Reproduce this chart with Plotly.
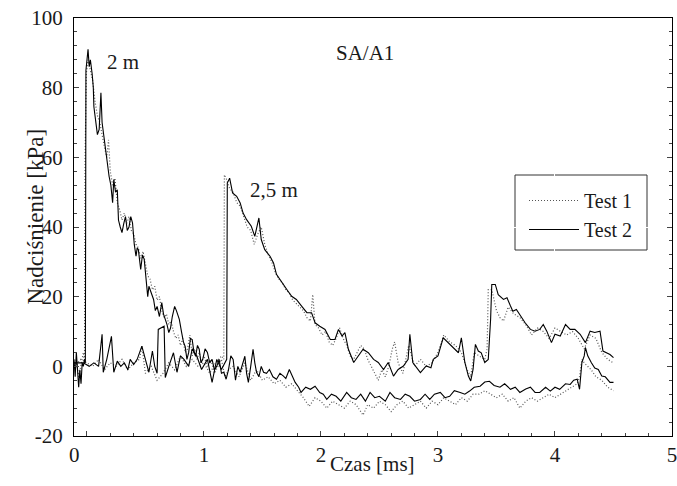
import plotly.graph_objects as go

# ---------------- data ----------------
# 2 m gauge, Test 2 (solid)
t_2m_test2 = [-0.11, -0.10, -0.09, -0.08, -0.07, -0.06, -0.05, -0.04, -0.03, -0.02, -0.013,
              -0.008, 0.0, 0.01, 0.02, 0.03, 0.045, 0.055, 0.06, 0.075, 0.09, 0.105, 0.12, 0.13,
              0.145, 0.16, 0.17, 0.19, 0.205, 0.22, 0.23, 0.245, 0.26, 0.27, 0.285, 0.30, 0.315,
              0.33, 0.345, 0.36, 0.375, 0.39, 0.405, 0.42, 0.43, 0.44, 0.46, 0.475, 0.49, 0.505,
              0.52, 0.53, 0.54, 0.555, 0.57, 0.585, 0.60, 0.62, 0.64, 0.655, 0.67, 0.685, 0.70,
              0.715, 0.73, 0.75, 0.765, 0.79, 0.81, 0.825, 0.84, 0.855, 0.87, 0.885, 0.90, 0.915,
              0.93, 0.945, 0.96, 0.975, 0.99, 1.01, 1.03, 1.05, 1.07, 1.09, 1.11, 1.13, 1.15, 1.17,
              1.19, 1.21, 1.23, 1.25, 1.27, 1.29, 1.31, 1.33, 1.35, 1.365, 1.38, 1.40, 1.42, 1.435,
              1.45, 1.47, 1.49, 1.51, 1.535, 1.56, 1.59, 1.62, 1.65, 1.68, 1.70, 1.73, 1.755, 1.78,
              1.81, 1.83, 1.87, 1.91, 1.95, 1.99, 2.02, 2.05, 2.09, 2.13, 2.17, 2.22, 2.26, 2.30,
              2.34, 2.38, 2.42, 2.46, 2.50, 2.55, 2.59, 2.63, 2.68, 2.72, 2.76, 2.80, 2.85, 2.89,
              2.93, 2.97, 3.02, 3.06, 3.10, 3.14, 3.19, 3.23, 3.27, 3.31, 3.36, 3.40, 3.44, 3.48,
              3.53, 3.57, 3.62, 3.66, 3.70, 3.75, 3.79, 3.83, 3.87, 3.92, 3.96, 4.00, 4.04, 4.09,
              4.13, 4.16, 4.19, 4.21, 4.23, 4.25, 4.26, 4.28, 4.31, 4.34, 4.37, 4.40, 4.43, 4.47, 4.50]
p_2m_test2 = [2, -3, 4, -2, -6, -1, -5, 1, 0, 2, 1,
              85, 88, 91, 86, 88, 84, 80, 74.5, 70, 66.5, 68, 78.5, 70,
              66, 62, 58.5, 54.5, 52, 47, 53.6, 50, 50.7, 42, 40, 38.4, 41,
              43, 39, 40, 43, 41.2, 35, 31.6, 34, 33.5, 27.8, 32, 30.7, 25,
              20, 23, 22, 21, 19.2, 16, 17.2, 14.3, 18.3, 15, 13.5, 12, 9.7,
              11, 14.3, 17.2, 16, 13.5, 9.7, 7, 5.7, 2, 4, 8, 7.7, 4,
              2.9, 6, 4.9, 1, 2, 5, 4, 1, 2, -1, 0, 2, -2, -1.7,
              -3.7, -1, 3, 2, -4, 0, -1.7, 1, 2.9, -2, -4.6, 0, 4.9, 1,
              -1.7, -3, 0, -1.7, -2, -0.9, -3, -3.7, -2, -2.8, -3.5, -0.9, -3, -4.6,
              -6, -7.5, -6, -6.6, -5.7, -7.5, -8, -9.5, -8, -8.6, -10, -7.5, -9, -9.5,
              -8, -10, -7.5, -9, -8.6, -10, -7.5, -9, -9.5, -8, -8.6, -10, -9.5, -8,
              -9.5, -8, -7.5, -9, -8.6, -7, -7.5, -8, -7.1, -6, -5.7, -4.5, -4.3, -5.5,
              -6, -5, -6.6, -6, -7.5, -6.5, -6, -7.5, -7.5, -6, -7.1, -6, -6.6, -5,
              -5.2, -4, -3.7, -6.6, 1.1, 3, 5.4, 3, 1.1, -0.5, -0.9, -2.8, -3, -4.6, -4.6]

# 2 m gauge, Test 1 (dotted)
t_2m_test1 = [-0.11, -0.09, -0.07, -0.05, -0.03, -0.02, -0.015, -0.005, 0.01, 0.03, 0.05, 0.07,
              0.09, 0.11, 0.13, 0.15, 0.17, 0.185, 0.20, 0.22, 0.24, 0.26, 0.28, 0.30, 0.32, 0.34,
              0.36, 0.38, 0.40, 0.42, 0.44, 0.46, 0.48, 0.50, 0.52, 0.54, 0.56, 0.58, 0.60, 0.62,
              0.64, 0.66, 0.68, 0.70, 0.72, 0.74, 0.76, 0.78, 0.80, 0.82, 0.84, 0.86, 0.88, 0.90,
              0.92, 0.94, 0.96, 0.98, 1.00, 1.03, 1.06, 1.09, 1.12, 1.15, 1.18, 1.21, 1.25, 1.30,
              1.35, 1.40, 1.45, 1.50, 1.55, 1.60, 1.65, 1.70, 1.75, 1.80, 1.85, 1.90, 1.95, 2.00,
              2.05, 2.10, 2.15, 2.20, 2.25, 2.30, 2.36, 2.40, 2.45, 2.50, 2.55, 2.60, 2.65, 2.70,
              2.75, 2.80, 2.85, 2.90, 2.95, 3.00, 3.05, 3.10, 3.15, 3.20, 3.25, 3.30, 3.35, 3.40,
              3.45, 3.50, 3.55, 3.60, 3.65, 3.70, 3.75, 3.80, 3.85, 3.90, 3.95, 4.00, 4.05, 4.10,
              4.15, 4.19, 4.21, 4.23, 4.25, 4.28, 4.31, 4.35, 4.40, 4.45, 4.50]
p_2m_test1 = [0, 2, -3, 1, 4, 1, 60, 84, 88, 85, 82, 76,
              72, 70, 66, 63, 60, 65, 56, 52, 54, 47, 45, 42, 44, 41,
              43, 39, 38, 35, 34, 31, 33, 29, 26, 25, 22, 23, 19, 20,
              16, 14, 15, 12, 13, 10, 8, 9, 6, 8, 4, 5, 9, 3,
              5, 2, 4, 1, 3, 0, 2, -2, 0, 2, -3, -1, 0, -3,
              1, -4, -1, -4, -3, -5, -4, -6, -5, -7, -9, -11.5, -9, -10,
              -12, -10, -11, -12, -10, -11, -14, -11, -12, -10, -11, -13, -11, -10,
              -12, -11, -10, -12, -10, -11, -9, -10, -11, -9, -10, -8, -8, -7,
              -8, -9, -8, -10, -9, -12, -10, -9, -10, -9, -8, -9, -8, -7,
              -6, -5, -3, 2, 1, 0, -1, -3, -4, -6, -7]

# 2,5 m gauge, Test 2 (solid)
t_25m_test2 = [-0.11, -0.06, -0.03, 0.02, 0.06, 0.10, 0.13, 0.14, 0.17, 0.21, 0.23, 0.26, 0.29,
               0.32, 0.35, 0.37, 0.40, 0.43, 0.47, 0.50, 0.53, 0.56, 0.58, 0.60, 0.61, 0.66, 0.67,
               0.70, 0.74, 0.77, 0.80, 0.83, 0.87, 0.90, 0.94, 0.98, 1.03, 1.07, 1.11, 1.15, 1.18,
               1.195, 1.20, 1.22, 1.245, 1.28, 1.31, 1.335, 1.365, 1.405, 1.435, 1.47, 1.49, 1.52,
               1.565, 1.595, 1.62, 1.665, 1.71, 1.75, 1.79, 1.835, 1.88, 1.92, 1.95, 1.99, 2.035,
               2.08, 2.12, 2.15, 2.18, 2.205, 2.235, 2.28, 2.32, 2.36, 2.405, 2.45, 2.49, 2.535,
               2.575, 2.62, 2.66, 2.705, 2.745, 2.76, 2.785, 2.82, 2.85, 2.90, 2.94, 2.96, 3.00,
               3.045, 3.09, 3.13, 3.175, 3.20, 3.23, 3.26, 3.28, 3.30, 3.32, 3.345, 3.37, 3.40,
               3.43, 3.45, 3.46, 3.49, 3.515, 3.56, 3.59, 3.62, 3.64, 3.67, 3.715, 3.745, 3.79,
               3.83, 3.87, 3.90, 3.93, 3.97, 4.00, 4.045, 4.09, 4.13, 4.17, 4.215, 4.26, 4.30,
               4.34, 4.385, 4.41, 4.47, 4.50]
p_25m_test2 = [1, 1, 1, 0, 1, 0, 9.2, -1.7, 2, 8.6, -1.7, 1.5, 0,
               1, -1, 2, 0.5, 2, 5.8, 2, -1.7, 4.4, 0, -2, 10.6, 11.5, -3.2,
               0, 3.9, -1.7, 3, 2, 0, 5, 2.9, -0.9, 2, -4.6, 2, -0.9, 1,
               2, 52.6, 54, 49.8, 48.8, 46.9, 44, 42.1, 40.2, 37.3, 42.6, 36.4, 33.5,
               31.6, 29.7, 26.4, 24, 22, 20.1, 19.2, 17.3, 15.4, 15.4, 12.5, 11.5, 10.6,
               7.7, 7.7, 10.6, 8.7, 9.7, 4.9, 1.1, 3, 4.9, 3.9, 2, 1.1, -0.9,
               1.1, -2.8, -0.9, 0.1, 2, 9.2, 1.1, -0.5, -1.8, 0.1, -0.4, 2, 3,
               8.2, 6.8, 5.4, 3.9, 8.2, 1.1, -2.8, -4.2, -0.9, 6.3, 4.4, 3.9, 1.1,
               2, 13.5, 23.5, 23.5, 20.6, 19.2, 19.7, 17.3, 15.8, 16.3, 13.9, 12.5, 10.6,
               10.1, 10.6, 12, 10.1, 6.8, 9.2, 8.7, 12, 10.6, 10.6, 9.2, 6.8, 10.1,
               9.7, 10.1, 4.4, 3.4, 2.5]

# 2,5 m gauge, Test 1 (dotted)
t_25m_test1 = [-0.11, -0.05, 0.0, 0.05, 0.10, 0.15, 0.20, 0.25, 0.30, 0.35, 0.40, 0.45, 0.47,
               0.50, 0.55, 0.60, 0.65, 0.70, 0.75, 0.80, 0.85, 0.90, 0.95, 1.00, 1.05, 1.10, 1.15,
               1.17, 1.175, 1.19, 1.22, 1.25, 1.28, 1.31, 1.34, 1.37, 1.40, 1.43, 1.46, 1.49,
               1.52, 1.55, 1.58, 1.61, 1.64, 1.67, 1.70, 1.73, 1.76, 1.79, 1.82, 1.85, 1.88, 1.91,
               1.93, 1.95, 1.98, 2.01, 2.04, 2.07, 2.10, 2.13, 2.16, 2.19, 2.22, 2.25, 2.28, 2.31,
               2.34, 2.37, 2.40, 2.43, 2.46, 2.49, 2.52, 2.55, 2.58, 2.61, 2.63, 2.66, 2.70, 2.75,
               2.80, 2.85, 2.90, 2.95, 3.00, 3.05, 3.10, 3.15, 3.20, 3.25, 3.28, 3.31, 3.35, 3.40,
               3.42, 3.43, 3.46, 3.50, 3.53, 3.56, 3.60, 3.65, 3.70, 3.75, 3.80, 3.85, 3.90, 3.95,
               4.00, 4.05, 4.10, 4.15, 4.20, 4.25, 4.30, 4.35, 4.40, 4.45, 4.50]
p_25m_test1 = [0, 2, 1, 0, 2, -1, 1, 0, 2, -1, 1, 2, 5.8,
               -2, 0, -4, -2, 1, -1, 3, 0, 2, 0, 1, -2, 1, 3,
               2, 55, 54, 51, 50, 47, 46, 43, 40, 39, 35, 38, 40,
               35, 32, 30, 27, 25, 24, 22, 21, 19, 18, 17, 16, 14, 13,
               20.6, 12, 11, 9, 10, 7, 6, 8, 11, 8, 6, 3, 2, 4,
               6, 5, 2, 0, -2, -4, -1, -3, 0, 5, 7, 1, -2, 6,
               0, 2, 0, 1, 4, 9, 7, 6, 4, -1, -3, 4, 3, 2,
               5, 22, 22, 16, 14, 13, 17, 15, 14, 12, 9, 11, 10, 8,
               11, 10, 9, 10, 8, 5, 9, 8, 4, 2, 1]

FONT = "Liberation Serif"
TXT = "#1a1a1a"
DOT_COLOR = "#555555"
FS = 21
CLEAR = "rgba(0,0,0,0)"


def fnt(size=FS):
    return dict(family=FONT, size=size, color=TXT)


fig = go.Figure()
fig.add_trace(go.Scatter(x=t_2m_test1, y=p_2m_test1, mode="lines", name="Test 1",
                         legendgroup="t1", showlegend=True,
                         line=dict(color=DOT_COLOR, width=1.2, dash="1px,2px")))
fig.add_trace(go.Scatter(x=t_25m_test1, y=p_25m_test1, mode="lines", name="Test 1",
                         legendgroup="t1", showlegend=False,
                         line=dict(color=DOT_COLOR, width=1.2, dash="1px,2px")))
fig.add_trace(go.Scatter(x=t_2m_test2, y=p_2m_test2, mode="lines", name="Test 2",
                         legendgroup="t2", showlegend=True,
                         line=dict(color="black", width=1.1)))
fig.add_trace(go.Scatter(x=t_25m_test2, y=p_25m_test2, mode="lines", name="Test 2",
                         legendgroup="t2", showlegend=False,
                         line=dict(color="black", width=1.1)))

fig.add_annotation(x=0.31, y=87.4, text="2 m", showarrow=False, font=fnt())
fig.add_annotation(x=1.60, y=50.7, text="2,5 m", showarrow=False, font=fnt())
fig.add_annotation(x=2.38, y=90, text="SA/A1", showarrow=False, font=fnt())
fig.add_annotation(xref="paper", yref="paper", x=0, y=0, yshift=-5, text="0",
                   showarrow=False, xanchor="center", yanchor="top", font=fnt())
# axis titles
fig.add_annotation(xref="paper", yref="paper", x=(372 - 74) / 598, y=(436 - 478) / 418,
                   text="Czas [ms]", showarrow=False, font=fnt())
fig.add_annotation(xref="paper", yref="paper", x=(20 - 74) / 598, y=(436 - 217) / 418,
                   text="Nadciśnienie [kPa]", showarrow=False, textangle=-90, font=fnt(23))

# legend frame (as in the reference, larger than the entries)
fig.add_shape(type="rect", xref="paper", yref="paper",
              x0=(515 - 74) / 598, x1=(647 - 74) / 598,
              y0=(436 - 250) / 418, y1=(436 - 175) / 418,
              line=dict(color="#333333", width=1), fillcolor="white", layer="below")

fig.update_layout(
    width=677, height=486,
    margin=dict(l=74, r=5, t=18, b=50),
    plot_bgcolor="white",
    legend=dict(x=(524 - 74) / 598, y=(436 - 181) / 418, xanchor="left", yanchor="top",
                borderwidth=0, bgcolor=CLEAR, font=fnt(20), tracegroupgap=0,
                itemwidth=50),
    xaxis=dict(range=[-0.11, 5.0], ticks="inside", ticklen=5, showline=True,
               linecolor="black", mirror=True, automargin=False,
               ticklabeloverflow="allow", labelalias={"0": " "}, tickfont=fnt(),
               minor=dict(dtick=0.2, ticks="inside", ticklen=3)),
    yaxis=dict(range=[-20, 100], ticks="inside", ticklen=5, showline=True,
               linecolor="black", mirror="ticks", automargin=False,
               ticklabelstandoff=6, ticklabeloverflow="allow", tickfont=fnt(),
               labelalias={"\u221220": "-20"},
               minor=dict(dtick=4, ticks="inside", ticklen=3)),
)

fig.write_html("out.html")
